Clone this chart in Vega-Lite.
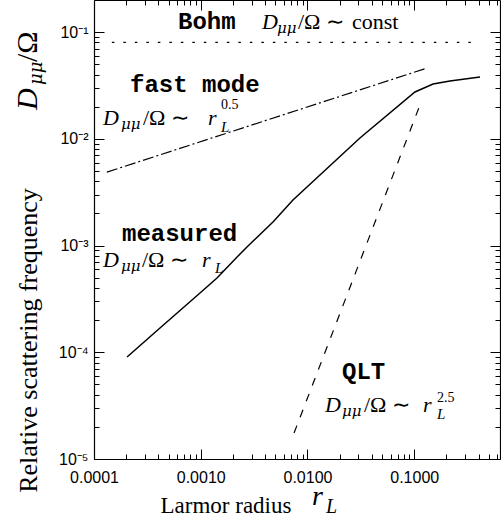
{
  "$schema": "https://vega.github.io/schema/vega-lite/v6.json",
  "width": 406,
  "height": 459,
  "autosize": {"type": "none"},
  "padding": {"left": 94, "top": 0, "right": 1, "bottom": 59},
  "background": "white",
  "config": {"view": {"stroke": null}, "axis": {"grid": false}},
  "datasets": {
    "lines": [
      {"series": "Bohm", "x": 0.000147, "y": 0.08},
      {"series": "Bohm", "x": 0.395, "y": 0.08},
      {"series": "fast", "x": 0.000132, "y": 0.00488},
      {"series": "fast", "x": 0.1315, "y": 0.046},
      {"series": "QLT", "x": 0.00748, "y": 0.0000175},
      {"series": "QLT", "x": 0.113, "y": 0.0207},
      {"series": "measured", "x": 0.000204, "y": 0.0000903},
      {"series": "measured", "x": 0.000415, "y": 0.0001689},
      {"series": "measured", "x": 0.000984, "y": 0.0003594},
      {"series": "measured", "x": 0.00142, "y": 0.000497},
      {"series": "measured", "x": 0.00219, "y": 0.000781},
      {"series": "measured", "x": 0.00271, "y": 0.000969},
      {"series": "measured", "x": 0.00475, "y": 0.001663},
      {"series": "measured", "x": 0.00731, "y": 0.002673},
      {"series": "measured", "x": 0.031, "y": 0.01018},
      {"series": "measured", "x": 0.1016, "y": 0.02748},
      {"series": "measured", "x": 0.15, "y": 0.03265},
      {"series": "measured", "x": 0.216, "y": 0.03483},
      {"series": "measured", "x": 0.413, "y": 0.03798}
    ],
    "mono": [
      {"t": "Bohm", "x": 0.000612, "y": 0.107},
      {"t": "fast mode", "x": 0.0002174, "y": 0.02748},
      {"t": "measured", "x": 0.0001829, "y": 0.001103},
      {"t": "QLT", "x": 0.02104, "y": 0.0000562}
    ],
    "mathIt": [
      {"t": "D", "x": 0.00375, "y": 0.107},
      {"t": "D", "x": 0.0001214, "y": 0.01348},
      {"t": "r", "x": 0.001169, "y": 0.01348},
      {"t": "D", "x": 0.0001214, "y": 0.0006296},
      {"t": "r", "x": 0.001027, "y": 0.0006296},
      {"t": "D", "x": 0.01459, "y": 0.00002757},
      {"t": "r", "x": 0.1208, "y": 0.00002757}
    ],
    "mathMu": [
      {"t": "μμ", "x": 0.00518, "y": 0.0981},
      {"t": "μμ", "x": 0.000179, "y": 0.01237},
      {"t": "μμ", "x": 0.000179, "y": 0.0005775},
      {"t": "μμ", "x": 0.02104, "y": 0.00002528}
    ],
    "mathSub": [
      {"t": "L", "x": 0.001548, "y": 0.01159},
      {"t": "L", "x": 0.00136, "y": 0.0005532},
      {"t": "L", "x": 0.1633, "y": 0.0000237}
    ],
    "mathRm": [
      {"t": "/Ω ∼", "x": 0.00815, "y": 0.107},
      {"t": "const", "x": 0.02611, "y": 0.107},
      {"t": "/Ω ∼", "x": 0.0002877, "y": 0.01348},
      {"t": "/Ω ∼", "x": 0.0002817, "y": 0.0006296},
      {"t": "/Ω ∼", "x": 0.03383, "y": 0.00002757}
    ],
    "mathSup": [
      {"t": "0.5", "x": 0.001548, "y": 0.01905},
      {"t": "2.5", "x": 0.1633, "y": 0.0000342}
    ],
    "yLabelD": [
      {"t": "D", "x": 0.0000292, "y": 0.01864}
    ],
    "yLabelRm": [
      {"t": "/Ω", "x": 0.0000292, "y": 0.0525}
    ],
    "yLabelSub": [
      {"t": "μμ", "x": 0.0000326, "y": 0.03195}
    ],
    "xLabelBig": [
      {"t": "r", "x": 0.01102, "y": 0.0000037}
    ],
    "xLabelSub": [
      {"t": "L", "x": 0.0149, "y": 0.00000312}
    ]
  },
  "layer": [
    {
      "data": {"name": "lines"},
      "transform": [{"filter": "datum.series == 'Bohm'"}],
      "mark": {"type": "line", "color": "black", "strokeWidth": 1.3, "strokeDash": [2.5, 9]},
      "encoding": {
        "x": {"field": "x", "type": "quantitative", "scale": {"type": "log", "domain": [0.0001, 0.636], "nice": false},
          "axis": {"orient": "top", "values": [0.0001,0.0002,0.0003,0.0004,0.0005,0.0006,0.0007,0.0008,0.0009,0.001,0.002,0.003,0.004,0.005,0.006,0.007,0.008,0.009,0.01,0.02,0.03,0.04,0.05,0.06,0.07,0.08,0.09,0.1,0.2,0.3,0.4,0.5,0.6],
            "tickSize": {"condition": {"test": "abs(log(datum.value)/LN10 - round(log(datum.value)/LN10)) < 0.01", "value": -10}, "value": -5},
            "labels": false, "title": null, "domainColor": "black", "domainWidth": 1.2, "tickColor": "black", "tickWidth": 1}},
        "y": {"field": "y", "type": "quantitative", "scale": {"type": "log", "domain": [0.00001, 0.2], "nice": false},
          "axis": {"orient": "right", "values": [0.00001,0.00002,0.00003,0.00004,0.00005,0.00006,0.00007,0.00008,0.00009,0.0001,0.0002,0.0003,0.0004,0.0005,0.0006,0.0007,0.0008,0.0009,0.001,0.002,0.003,0.004,0.005,0.006,0.007,0.008,0.009,0.01,0.02,0.03,0.04,0.05,0.06,0.07,0.08,0.09,0.1],
            "tickSize": {"condition": {"test": "abs(log(datum.value)/LN10 - round(log(datum.value)/LN10)) < 0.01", "value": -10}, "value": -5},
            "labels": false, "title": null, "domainColor": "black", "domainWidth": 1.2, "tickColor": "black", "tickWidth": 1}}
      }
    },
    {
      "data": {"name": "lines"},
      "transform": [{"filter": "datum.series == 'fast'"}],
      "mark": {"type": "line", "color": "black", "strokeWidth": 1.2, "strokeDash": [11, 3, 2, 3]},
      "encoding": {
        "x": {"field": "x", "type": "quantitative", "scale": {"type": "log", "domain": [0.0001, 0.636], "nice": false}, "axis": null},
        "y": {"field": "y", "type": "quantitative", "scale": {"type": "log", "domain": [0.00001, 0.2], "nice": false}, "axis": null}
      }
    },
    {
      "data": {"name": "lines"},
      "transform": [{"filter": "datum.series == 'QLT'"}],
      "mark": {"type": "line", "color": "black", "strokeWidth": 1.2, "strokeDash": [8, 9]},
      "encoding": {
        "x": {"field": "x", "type": "quantitative", "scale": {"type": "log", "domain": [0.0001, 0.636], "nice": false}, "axis": null},
        "y": {"field": "y", "type": "quantitative", "scale": {"type": "log", "domain": [0.00001, 0.2], "nice": false}, "axis": null}
      }
    },
    {
      "data": {"name": "lines"},
      "transform": [{"filter": "datum.series == 'measured'"}],
      "mark": {"type": "line", "color": "black", "strokeWidth": 1.5},
      "encoding": {
        "x": {"field": "x", "type": "quantitative", "scale": {"type": "log", "domain": [0.0001, 0.636], "nice": false},
          "axis": {"orient": "bottom", "values": [0.0001,0.0002,0.0003,0.0004,0.0005,0.0006,0.0007,0.0008,0.0009,0.001,0.002,0.003,0.004,0.005,0.006,0.007,0.008,0.009,0.01,0.02,0.03,0.04,0.05,0.06,0.07,0.08,0.09,0.1,0.2,0.3,0.4,0.5,0.6],
            "tickSize": {"condition": {"test": "abs(log(datum.value)/LN10 - round(log(datum.value)/LN10)) < 0.01", "value": -10}, "value": -5},
            "labelExpr": "abs(log(datum.value)/LN10 - round(log(datum.value)/LN10)) < 0.01 ? format(datum.value, '.4f') : ''",
            "labelFont": "Liberation Sans", "labelFontSize": 16, "labelColor": "black", "labelPadding": 20, "labelOverlap": false, "labelFlush": false, "labelBound": false,
            "domainColor": "black", "domainWidth": 1.2, "tickColor": "black", "tickWidth": 1,
            "title": "Larmor radius", "titleFont": "Liberation Serif", "titleFontSize": 23, "titleFontWeight": "normal", "titleColor": "black",
            "titleX": 66, "titleY": 53, "titleAlign": "left", "titleBaseline": "alphabetic"}},
        "y": {"field": "y", "type": "quantitative", "scale": {"type": "log", "domain": [0.00001, 0.2], "nice": false},
          "axis": {"orient": "left", "values": [0.00001,0.00002,0.00003,0.00004,0.00005,0.00006,0.00007,0.00008,0.00009,0.0001,0.0002,0.0003,0.0004,0.0005,0.0006,0.0007,0.0008,0.0009,0.001,0.002,0.003,0.004,0.005,0.006,0.007,0.008,0.009,0.01,0.02,0.03,0.04,0.05,0.06,0.07,0.08,0.09,0.1],
            "tickSize": {"condition": {"test": "abs(log(datum.value)/LN10 - round(log(datum.value)/LN10)) < 0.01", "value": -10}, "value": -5},
            "labelExpr": "abs(log(datum.value)/LN10 - round(log(datum.value)/LN10)) < 0.01 ? (round(log(datum.value)/LN10) == -1 ? '10⁻¹' : round(log(datum.value)/LN10) == -2 ? '10⁻²' : round(log(datum.value)/LN10) == -3 ? '10⁻³' : round(log(datum.value)/LN10) == -4 ? '10⁻⁴' : '10⁻⁵') : ''",
            "labelFont": "Liberation Sans", "labelFontSize": 16, "labelColor": "black", "labelPadding": 16, "labelOverlap": false, "labelFlush": false, "labelBound": false,
            "domainColor": "black", "domainWidth": 1.2, "tickColor": "black", "tickWidth": 1,
            "title": "Relative scattering frequency", "titleFont": "Liberation Serif", "titleFontSize": 26, "titleFontWeight": "normal", "titleColor": "black",
            "titleX": -58, "titleY": 340, "titleAngle": 270, "titleAlign": "center", "titleBaseline": "alphabetic"}}
      }
    },
    {
      "data": {"name": "mono"},
      "mark": {"type": "text", "font": "Liberation Mono", "fontWeight": "bold", "fontSize": 24, "align": "left", "baseline": "alphabetic", "color": "black"},
      "encoding": {
        "x": {"field": "x", "type": "quantitative", "scale": {"type": "log", "domain": [0.0001, 0.636], "nice": false}, "axis": null},
        "y": {"field": "y", "type": "quantitative", "scale": {"type": "log", "domain": [0.00001, 0.2], "nice": false}, "axis": null},
        "text": {"field": "t"}
      }
    },
    {
      "data": {"name": "mathIt"},
      "mark": {"type": "text", "font": "Liberation Serif", "fontStyle": "italic", "fontSize": 22, "align": "left", "baseline": "alphabetic", "color": "black"},
      "encoding": {
        "x": {"field": "x", "type": "quantitative", "scale": {"type": "log", "domain": [0.0001, 0.636], "nice": false}, "axis": null},
        "y": {"field": "y", "type": "quantitative", "scale": {"type": "log", "domain": [0.00001, 0.2], "nice": false}, "axis": null},
        "text": {"field": "t"}
      }
    },
    {
      "data": {"name": "mathMu"},
      "mark": {"type": "text", "font": "DejaVu Serif", "fontStyle": "italic", "fontSize": 15, "align": "left", "baseline": "alphabetic", "color": "black"},
      "encoding": {
        "x": {"field": "x", "type": "quantitative", "scale": {"type": "log", "domain": [0.0001, 0.636], "nice": false}, "axis": null},
        "y": {"field": "y", "type": "quantitative", "scale": {"type": "log", "domain": [0.00001, 0.2], "nice": false}, "axis": null},
        "text": {"field": "t"}
      }
    },
    {
      "data": {"name": "mathSub"},
      "mark": {"type": "text", "font": "Liberation Serif", "fontStyle": "italic", "fontSize": 15, "align": "left", "baseline": "alphabetic", "color": "black"},
      "encoding": {
        "x": {"field": "x", "type": "quantitative", "scale": {"type": "log", "domain": [0.0001, 0.636], "nice": false}, "axis": null},
        "y": {"field": "y", "type": "quantitative", "scale": {"type": "log", "domain": [0.00001, 0.2], "nice": false}, "axis": null},
        "text": {"field": "t"}
      }
    },
    {
      "data": {"name": "mathRm"},
      "mark": {"type": "text", "font": "Liberation Serif", "fontSize": 22, "align": "left", "baseline": "alphabetic", "color": "black"},
      "encoding": {
        "x": {"field": "x", "type": "quantitative", "scale": {"type": "log", "domain": [0.0001, 0.636], "nice": false}, "axis": null},
        "y": {"field": "y", "type": "quantitative", "scale": {"type": "log", "domain": [0.00001, 0.2], "nice": false}, "axis": null},
        "text": {"field": "t"}
      }
    },
    {
      "data": {"name": "mathSup"},
      "mark": {"type": "text", "font": "Liberation Serif", "fontSize": 14, "align": "left", "baseline": "alphabetic", "color": "black"},
      "encoding": {
        "x": {"field": "x", "type": "quantitative", "scale": {"type": "log", "domain": [0.0001, 0.636], "nice": false}, "axis": null},
        "y": {"field": "y", "type": "quantitative", "scale": {"type": "log", "domain": [0.00001, 0.2], "nice": false}, "axis": null},
        "text": {"field": "t"}
      }
    },
    {
      "data": {"name": "yLabelD"},
      "mark": {"type": "text", "font": "Liberation Serif", "fontStyle": "italic", "fontSize": 30, "align": "left", "baseline": "alphabetic", "angle": 270, "color": "black"},
      "encoding": {
        "x": {"field": "x", "type": "quantitative", "scale": {"type": "log", "domain": [0.0001, 0.636], "nice": false}, "axis": null},
        "y": {"field": "y", "type": "quantitative", "scale": {"type": "log", "domain": [0.00001, 0.2], "nice": false}, "axis": null},
        "text": {"field": "t"}
      }
    },
    {
      "data": {"name": "yLabelRm"},
      "mark": {"type": "text", "font": "Liberation Serif", "fontSize": 30, "align": "left", "baseline": "alphabetic", "angle": 270, "color": "black"},
      "encoding": {
        "x": {"field": "x", "type": "quantitative", "scale": {"type": "log", "domain": [0.0001, 0.636], "nice": false}, "axis": null},
        "y": {"field": "y", "type": "quantitative", "scale": {"type": "log", "domain": [0.00001, 0.2], "nice": false}, "axis": null},
        "text": {"field": "t"}
      }
    },
    {
      "data": {"name": "yLabelSub"},
      "mark": {"type": "text", "font": "DejaVu Serif", "fontStyle": "italic", "fontSize": 18, "align": "left", "baseline": "alphabetic", "angle": 270, "color": "black"},
      "encoding": {
        "x": {"field": "x", "type": "quantitative", "scale": {"type": "log", "domain": [0.0001, 0.636], "nice": false}, "axis": null},
        "y": {"field": "y", "type": "quantitative", "scale": {"type": "log", "domain": [0.00001, 0.2], "nice": false}, "axis": null},
        "text": {"field": "t"}
      }
    },
    {
      "data": {"name": "xLabelBig"},
      "mark": {"type": "text", "font": "Liberation Serif", "fontStyle": "italic", "fontSize": 28, "align": "left", "baseline": "alphabetic", "color": "black"},
      "encoding": {
        "x": {"field": "x", "type": "quantitative", "scale": {"type": "log", "domain": [0.0001, 0.636], "nice": false}, "axis": null},
        "y": {"field": "y", "type": "quantitative", "scale": {"type": "log", "domain": [0.00001, 0.2], "nice": false}, "axis": null},
        "text": {"field": "t"}
      }
    },
    {
      "data": {"name": "xLabelSub"},
      "mark": {"type": "text", "font": "Liberation Serif", "fontStyle": "italic", "fontSize": 20, "align": "left", "baseline": "alphabetic", "color": "black"},
      "encoding": {
        "x": {"field": "x", "type": "quantitative", "scale": {"type": "log", "domain": [0.0001, 0.636], "nice": false}, "axis": null},
        "y": {"field": "y", "type": "quantitative", "scale": {"type": "log", "domain": [0.00001, 0.2], "nice": false}, "axis": null},
        "text": {"field": "t"}
      }
    }
  ],
  "resolve": {"axis": {"x": "independent", "y": "independent"}}
}
